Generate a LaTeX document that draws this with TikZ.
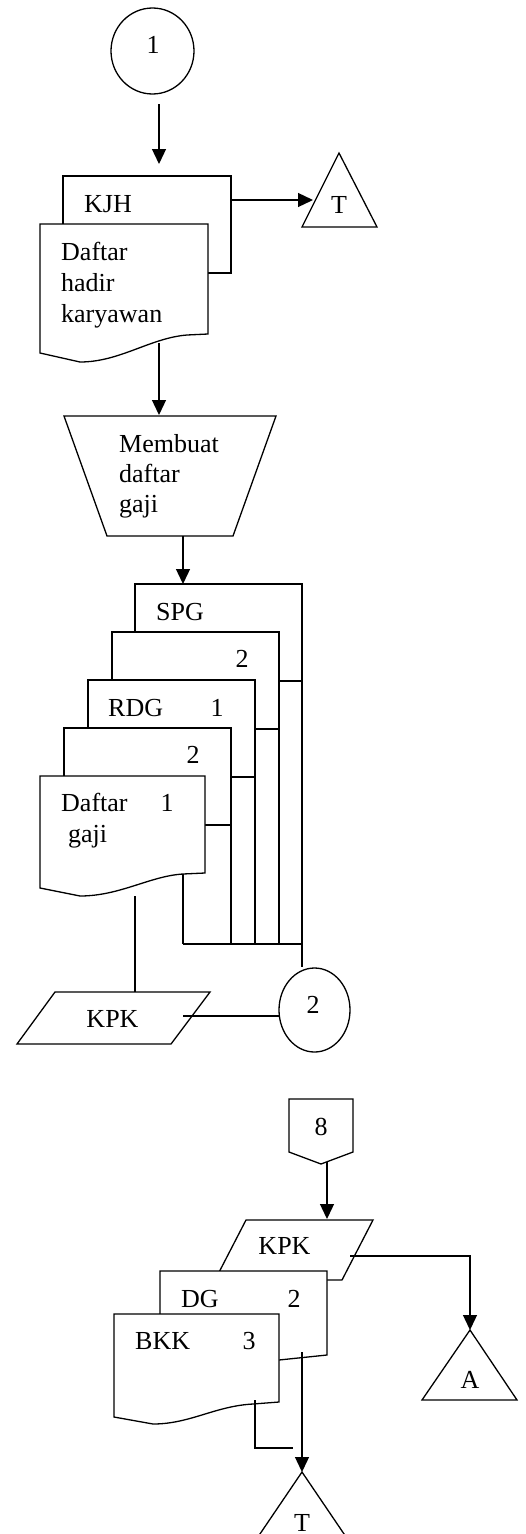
\documentclass[tikz,border=0pt]{standalone}
\usepackage{fontspec}
\setmainfont{Liberation Serif}
\usetikzlibrary{arrows.meta,shapes.geometric}

\tikzset{
  every node/.style={font=\fontsize{26}{31}\selectfont, inner sep=0pt},
  line/.style={line width=1.3pt},
  flow/.style={line, -{Triangle[length=15pt,width=14pt]}},
  box/.style={line, fill=white},
  conn/.style={draw, ellipse, line width=1.3pt},
  txt/.style={anchor=base west, align=left},
  num/.style={anchor=base},
}

\begin{document}
\begin{tikzpicture}[x=1pt,y=-1pt]
  \clip (0,0) rectangle (526,1534);
  % on-page connector 1
  \node[conn, minimum width=83pt, minimum height=86pt] (c1) at (152.5,51) {};
  \node[num] (c1t) at (153,53) {1};
  \coordinate (a1) at (159,104);
  \coordinate (a2) at (159,164);
  \draw[flow] (a1) -- (a2);

  % KJH and daftar hadir
  \draw[box] (63,176) rectangle (231,273);
  \node[txt] (kjh) at (84,212) {KJH};
  \draw[box] (40,224) -- (208,224) -- (208,334) -- (187,335)
    .. controls (150,338) and (120,362) .. (80,362) -- (40,353) -- cycle;
  \node[txt] (dhk) at (61,322) {Daftar\\hadir\\karyawan};

  % archive T
  \draw[line] (339,153) -- (377,227) -- (302,227) -- cycle;
  \node[num] (t1) at (339,213) {T};
  \coordinate (a3) at (231,200);
  \coordinate (a4) at (313,200);
  \draw[flow] (a3) -- (a4);

  % manual process
  \coordinate (a5) at (159,343);
  \coordinate (a6) at (159,415);
  \draw[flow] (a5) -- (a6);
  \draw[line] (64,416) -- (276,416) -- (233,536) -- (107,536) -- cycle;
  \node[txt] (mdg) at (119,512) {Membuat\\[-1pt]daftar\\[-1pt]gaji};
  \coordinate (a7) at (183,536);
  \coordinate (a8) at (183,584);
  \draw[flow] (a7) -- (a8);

  % SPG, RDG, daftar gaji
  \draw[box] (135,584) rectangle (302,681);
  \node[txt] (spg) at (156,620) {SPG};
  \draw[box] (112,632) rectangle (279,729);
  \node[num] (n2a) at (242,667) {2};
  \draw[box] (88,680) rectangle (255,777);
  \node[txt] (rdg) at (108,716) {RDG};
  \node[num] (n1a) at (217,716) {1};
  \draw[box] (64,728) rectangle (231,825);
  \node[num] (n2b) at (193,763) {2};
  \draw[box] (40,776) -- (205,776) -- (205,873) -- (183,874)
    .. controls (150,876) and (120,896) .. (80,896) -- (40,888) -- cycle;
  \node[txt] (dgj) at (61,842) {Daftar\\\hspace*{7pt}gaji};
  \node[num] (n1b) at (167,811) {1};

  % copies to connector 2
  \coordinate (b1) at (302,681);
  \coordinate (b2) at (279,729);
  \coordinate (b3) at (255,777);
  \coordinate (b4) at (231,825);
  \coordinate (b5) at (183,874);
  \coordinate (bus) at (0,944);
  \node[conn, minimum width=71pt, minimum height=84pt] (c2) at (314.5,1010) {};
  \node[num] (c2t) at (313,1013) {2};
  \foreach \b in {b2,b3,b4,b5}
    \draw[line] (\b) -- (\b |- bus);
  \draw[line] (b5 |- bus) -- (b1 |- bus);
  \draw[line] (b1) -- (b1 |- c2.north);

  % KPK
  \draw[line] (55,992) -- (210,992) -- (171,1044) -- (17,1044) -- cycle;
  \node[num] (kpk1) at (112.5,1027) {KPK};
  \coordinate (k1) at (135,896);
  \coordinate (k2) at (135,992);
  \draw[line] (k1) -- (k2);
  \coordinate (k3) at (183,1016);
  \coordinate (k4) at (279,1016);
  \draw[line] (k3) -- (k4);

  % off-page connector 8
  \draw[line] (289,1099) -- (353,1099) -- (353,1152) -- (321,1164) -- (289,1152) -- cycle;
  \node[num] (p8) at (321,1135) {8};
  \coordinate (k5) at (327,1162);
  \coordinate (k6) at (327,1219);
  \draw[flow] (k5) -- (k6);

  % KPK, DG, BKK
  \draw[line] (246,1220) -- (373,1220) -- (342,1280) -- (215,1280) -- cycle;
  \node[num] (kpk2) at (284.5,1254) {KPK};
  \draw[box] (160,1271) -- (327,1271) -- (327,1355) -- (279,1360) -- (160,1360) -- cycle;
  \node[txt] (dg) at (181,1307) {DG};
  \node[num] (n2c) at (294,1307) {2};
  \draw[box] (114,1314) -- (279,1314) -- (279,1402) -- (253,1404)
    .. controls (215,1406) and (190,1424) .. (153,1424) -- (114,1417) -- cycle;
  \node[txt] (bkk) at (135,1349) {BKK};
  \node[num] (n3) at (249,1349) {3};

  % archive A
  \draw[line] (470,1330) -- (517,1400) -- (422,1400) -- cycle;
  \node[num] (ta) at (470,1388) {A};
  \coordinate (k7) at (350,1256);
  \coordinate (k8) at (470,1330);
  \draw[flow] (k7) -| (k8);

  % archive T
  \draw[line] (302,1472) -- (349.5,1542) -- (254.5,1542) -- cycle;
  \node[num] (t2) at (302,1531) {T};
  \coordinate (k9) at (302,1352);
  \coordinate (k10) at (302,1472);
  \draw[flow] (k9) -- (k10);
  \coordinate (k11) at (255,1400);
  \coordinate (k12) at (293,1448);
  \draw[line] (k11) |- (k12);
\end{tikzpicture}
\end{document}
